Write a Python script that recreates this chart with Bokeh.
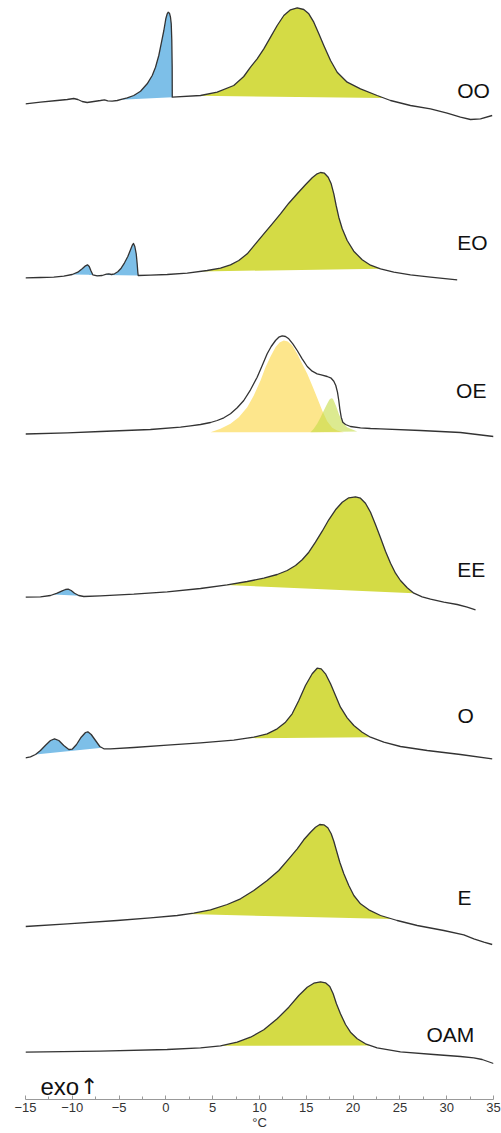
import numpy as np
from bokeh.plotting import figure
from bokeh.models import Range1d, FixedTicker, Label
from bokeh.embed import file_html
from bokeh.resources import INLINE

# ---------------- data ----------------
temp_ticks = [-15, -10, -5, 0, 5, 10, 15, 20, 25, 30, 35]
tick_labels = ["−15", "−10", "−5", "0", "5", "10", "15", "20", "25", "30", "35"]
minor_temp_ticks = [-12.5, -7.5, -2.5, 2.5, 7.5, 12.5, 17.5, 22.5, 27.5, 32.5]

# heat-flow traces (stacked, arbitrary units), temperature in °C
OO_T = [-15.00, -13.40, -11.62, -10.54, -9.84, -9.41, -8.94, -8.41, -7.70, -6.99,
        -6.56, -6.21, -5.74, -5.20, -4.67, -4.13, -3.43, -2.71, -2.00, -1.46,
        -1.11, -0.76, -0.47, -0.22, -0.01, 0.14, 0.25, 0.38, 0.49, 0.57,
        0.63, 0.67, 0.68, 3.70, 5.48, 7.25, 8.32, 9.04, 9.75, 10.46,
        11.18, 11.89, 12.60, 13.31, 14.03, 14.73, 15.27, 15.80, 16.34, 16.87,
        17.59, 18.30, 19.37, 20.79, 22.57, 24.00, 26.13, 28.27, 30.05, 31.47,
        32.54, 33.61, 34.86]
OO_H = [995.7, 997.3, 999.0, 1000.0, 1001.0, 1000.0, 998.0, 997.0, 998.0, 999.0,
        999.7, 998.7, 998.3, 999.0, 1000.3, 1001.7, 1004.0, 1008.3, 1015.7, 1024.0,
        1032.3, 1044.0, 1057.3, 1069.0, 1080.7, 1085.7, 1087.3, 1086.3, 1082.3, 1075.7,
        1059.0, 1032.3, 1002.3, 1004.0, 1007.3, 1014.0, 1023.0, 1032.3, 1040.7, 1050.7,
        1062.3, 1074.0, 1084.0, 1089.7, 1091.7, 1090.0, 1085.7, 1077.3, 1065.7, 1054.0,
        1039.0, 1027.3, 1017.3, 1010.7, 1004.0, 999.0, 994.0, 990.7, 986.3, 982.3,
        980.0, 980.7, 984.0]

EO_T = [-15.00, -13.40, -11.98, -10.91, -10.01, -9.41, -8.94, -8.59, -8.38, -8.19,
        -8.02, -7.81, -7.34, -6.81, -6.35, -6.10, -5.81, -5.49, -5.14, -4.78,
        -4.42, -4.07, -3.78, -3.57, -3.46, -3.32, -3.17, -3.07, -3.00, -2.96,
        -1.65, 0.14, 2.28, 4.41, 5.83, 6.90, 7.79, 8.69, 9.57, 10.46,
        11.36, 12.24, 13.13, 14.03, 14.91, 15.63, 16.16, 16.52, 16.94, 17.34,
        17.66, 17.94, 18.19, 18.47, 18.84, 19.37, 20.07, 20.97, 21.86, 22.93,
        24.35, 26.13, 28.27, 31.12]
EO_H = [821.7, 822.0, 822.3, 823.3, 825.0, 827.3, 830.7, 833.7, 834.7, 833.0,
        829.0, 824.7, 823.7, 824.0, 825.3, 825.7, 825.0, 825.7, 827.7, 831.3,
        836.7, 843.0, 849.7, 854.7, 856.0, 853.0, 845.7, 835.7, 827.3, 824.0,
        824.3, 825.0, 826.3, 829.0, 831.3, 834.7, 839.0, 845.7, 855.7, 865.7,
        875.7, 885.7, 896.3, 905.7, 914.7, 921.7, 925.7, 927.0, 926.3, 922.3,
        915.7, 905.7, 894.0, 882.3, 870.7, 859.0, 848.3, 839.7, 834.3, 830.7,
        827.3, 824.7, 822.3, 819.7]

OE_T = [-15.00, -10.54, -6.99, -1.65, 1.56, 2.63, 3.70, 4.77, 5.48, 6.19,
        6.90, 7.62, 8.32, 9.04, 9.75, 10.29, 10.82, 11.25, 11.71, 12.06,
        12.43, 12.78, 13.13, 13.56, 14.03, 14.56, 15.10, 15.63, 16.16, 16.70,
        17.23, 17.66, 17.94, 18.15, 18.33, 18.47, 18.58, 18.73, 18.90, 19.19,
        19.72, 20.79, 21.86, 22.93, 27.20, 31.47, 35.00]
OE_H = [665.5, 666.7, 668.0, 670.0, 672.3, 673.7, 675.0, 677.0, 679.0, 681.7,
        685.7, 691.7, 699.0, 709.7, 722.3, 734.0, 745.7, 753.0, 759.0, 762.3,
        763.7, 763.0, 760.7, 755.7, 749.0, 740.7, 733.0, 728.3, 725.7, 724.3,
        723.0, 721.3, 718.3, 714.0, 707.3, 699.0, 690.7, 682.3, 677.3, 675.0,
        673.0, 671.7, 671.0, 670.7, 669.0, 667.0, 663.0]

# OE deconvoluted components
OE_main_T = [4.77, 5.83, 6.90, 7.79, 8.69, 9.39, 10.11, 10.64, 11.18, 11.71, 12.14, 12.60,
             13.03, 13.50, 14.03, 14.56, 15.10, 15.63, 16.16, 16.70, 17.23, 17.77, 18.30, 19.01]
OE_main_H = [667.3, 670.7, 675.7, 682.3, 692.3, 704.0, 719.0, 732.3, 743.0, 752.3, 757.0, 759.0,
             758.0, 754.0, 745.7, 735.7, 725.7, 714.0, 701.7, 689.0, 678.3, 671.7, 669.0, 667.3]
OE_minor_T = [15.45, 15.80, 16.16, 16.52, 16.87, 17.23, 17.48, 17.66, 17.84, 18.01, 18.23,
              18.47, 18.73, 19.01, 19.37, 19.72, 20.44]
OE_minor_H = [667.3, 670.7, 675.7, 682.0, 689.0, 695.7, 700.0, 701.3, 700.7, 697.3, 692.3,
              685.7, 680.0, 675.7, 672.3, 670.7, 668.0]

EE_T = [-15.00, -13.40, -12.33, -11.61, -11.08, -10.73, -10.44, -10.12, -9.76, -9.31,
        -8.77, -6.99, -3.43, 0.14, 3.70, 6.55, 8.69, 10.46, 11.89, 12.96,
        13.85, 14.56, 15.27, 15.98, 16.70, 17.40, 18.12, 18.84, 19.54, 20.26,
        20.79, 21.32, 21.86, 22.39, 22.93, 23.46, 24.00, 24.53, 25.06, 25.78,
        26.49, 27.38, 28.27, 29.69, 31.12, 32.19, 33.08]
EE_H = [502.3, 502.7, 504.0, 506.3, 508.7, 510.0, 510.3, 509.0, 506.3, 504.0,
        503.0, 503.7, 505.3, 507.7, 511.0, 514.7, 518.0, 521.3, 525.0, 529.0,
        534.0, 539.7, 547.3, 557.3, 568.3, 579.7, 589.7, 597.3, 601.7, 602.7,
        601.3, 596.3, 587.3, 575.0, 561.7, 548.3, 536.3, 526.3, 519.0, 511.7,
        506.3, 502.7, 500.3, 497.3, 495.0, 492.3, 489.7]

O_T = [-15.00, -14.47, -13.93, -13.40, -12.86, -12.33, -11.90, -11.44, -10.91, -10.37,
       -10.01, -9.55, -9.05, -8.59, -8.34, -7.98, -7.52, -7.06, -6.63, -5.92,
       -3.43, 0.14, 3.70, 7.25, 9.39, 10.82, 11.89, 12.78, 13.49, 14.20,
       14.91, 15.63, 16.16, 16.59, 17.05, 17.59, 18.12, 18.65, 19.37, 20.08,
       20.97, 21.86, 23.28, 25.06, 27.92, 31.47, 34.86]
O_H = [341.7, 342.7, 345.0, 349.0, 354.3, 359.0, 360.7, 359.0, 354.0, 350.0,
       350.3, 355.0, 362.3, 367.0, 367.7, 365.0, 359.0, 353.0, 350.7, 350.7,
       352.0, 354.3, 356.7, 359.3, 362.3, 365.7, 370.7, 377.3, 385.7, 399.0,
       414.0, 425.7, 431.3, 430.7, 425.7, 415.7, 404.0, 392.3, 381.7, 374.0,
       367.3, 362.3, 357.3, 353.0, 349.0, 345.0, 340.7]

E_T = [-15.00, -10.54, -5.20, -1.65, 1.21, 2.98, 4.77, 6.55, 7.97, 9.39,
       10.82, 12.06, 13.13, 14.03, 14.73, 15.45, 15.98, 16.44, 16.87, 17.30,
       17.66, 17.94, 18.22, 18.58, 19.01, 19.54, 20.08, 20.79, 21.68, 22.93,
       24.71, 26.85, 29.69, 31.83, 32.90, 33.97, 34.86]
E_H = [173.0, 175.7, 179.0, 181.7, 184.0, 186.3, 189.7, 195.0, 200.7, 209.0,
       219.0, 229.0, 240.7, 250.7, 259.7, 267.3, 272.3, 275.0, 274.7, 271.7,
       265.7, 258.3, 249.0, 237.3, 225.7, 214.0, 204.0, 195.7, 189.7, 184.0,
       179.0, 174.0, 169.0, 164.7, 160.7, 157.3, 155.0]

OAM_T = [-15.00, -6.99, 0.14, 3.70, 5.83, 7.62, 9.04, 10.46, 11.89, 13.13,
         14.20, 15.10, 15.80, 16.52, 17.05, 17.51, 17.87, 18.22, 18.65, 19.19,
         19.72, 20.44, 21.32, 22.57, 25.06, 28.62, 31.47, 32.90, 33.79, 35.00]
OAM_H = [47.3, 48.3, 50.0, 51.7, 53.7, 57.3, 62.3, 69.7, 80.7, 92.3,
         104.0, 112.3, 116.3, 117.7, 116.7, 113.0, 105.7, 95.7, 85.7, 75.0,
         67.3, 60.7, 55.7, 51.7, 47.7, 45.0, 43.0, 41.7, 40.0, 36.0]

# integrated peak ranges (°C): crystallisation (blue) and melting (green)
OO_blue, OO_green = (-4.85, 0.68), (3.34, 23.28)
EO_blue, EO_green = (-10.01, -2.96), (3.70, 22.93)
EE_blue, EE_green = (-12.00, -9.20), (6.37, 26.49)
O_blue, O_green = (-13.93, -6.81), (8.69, 21.86)
E_green = (2.28, 24.18)
OAM_green = (5.83, 21.86)

sample_names = ["OO", "EO", "OE", "EE", "O", "E", "OAM"]

# ---------------- styling ----------------
BLUE = "#7dbfe8"
GREEN = "#d4db45"
YELLOW = "#fde68c"
LIGHT_GREEN = "#c4dc46"
LINE = "#333333"
FONT = "Liberation Sans"

p = figure(width=501, height=1133, output_backend="svg", toolbar_location=None,
           x_range=Range1d(-15, 35), y_range=Range1d(0, 1099),
           y_axis_location=None, min_border_left=25, min_border_right=8,
           min_border_top=0, min_border_bottom=34)
p.grid.visible = False
p.outline_line_color = None
p.background_fill_color = "white"


def fill_peak(T, H, rng, color):
    t1, t2 = rng
    Ta = np.array(T)
    Ha = np.array(H)
    h1 = float(np.interp(t1, Ta, Ha))
    h2 = float(np.interp(t2, Ta, Ha))
    mask = (Ta > t1) & (Ta < t2)
    xs = [t1] + list(Ta[mask]) + [t2]
    ys = [h1] + list(Ha[mask]) + [h2]
    p.patch(xs, ys, fill_color=color, line_color=None)


fill_peak(OO_T, OO_H, OO_blue, BLUE)
fill_peak(OO_T, OO_H, OO_green, GREEN)
fill_peak(EO_T, EO_H, EO_blue, BLUE)
fill_peak(EO_T, EO_H, EO_green, GREEN)
fill_peak(EE_T, EE_H, EE_blue, BLUE)
fill_peak(EE_T, EE_H, EE_green, GREEN)
fill_peak(O_T, O_H, O_blue, BLUE)
fill_peak(O_T, O_H, O_green, GREEN)
fill_peak(E_T, E_H, E_green, GREEN)
fill_peak(OAM_T, OAM_H, OAM_green, GREEN)

p.patch(OE_main_T, OE_main_H, fill_color=YELLOW, line_color=None)
p.patch(OE_minor_T, OE_minor_H, fill_color=LIGHT_GREEN, fill_alpha=0.6, line_color=None)

for T, H in [(OO_T, OO_H), (EO_T, EO_H), (OE_T, OE_H), (EE_T, EE_H),
             (O_T, O_H), (E_T, E_H), (OAM_T, OAM_H)]:
    p.line(T, H, line_color=LINE, line_width=1.3, line_join="round")

# sample labels
label_pos = [(31.12, 1009), (31.12, 857.3), (31.0, 709), (31.12, 529.7),
             (31.15, 384), (31.15, 201.7), (27.84, 65)]
for name, (lx, ly) in zip(sample_names, label_pos):
    p.add_layout(Label(x=lx, y=ly, text=name, text_font=FONT, text_font_size="21px",
                       text_color="#111111", text_baseline="alphabetic", text_align="left"))

# "exo↑" direction marker (arrow set in DejaVu Sans, which has the glyph)
p.add_layout(Label(x=-13.4, y=13, text="exo", text_font=FONT, text_font_size="24px",
                   text_color="#111111", text_baseline="alphabetic", text_align="left"))
p.add_layout(Label(x=-8.2, y=13, text="↑", text_font="DejaVu Sans", text_font_size="22px",
                   text_color="#111111", text_baseline="alphabetic", text_align="center"))

# x axis
ax = p.xaxis[0]
ax.ticker = FixedTicker(ticks=temp_ticks, minor_ticks=minor_temp_ticks)
ax.major_label_overrides = {t: s for t, s in zip(temp_ticks, tick_labels)}
ax.axis_label = "°C"
ax.axis_label_text_font = FONT
ax.axis_label_text_font_style = "normal"
ax.axis_label_text_font_size = "13px"
ax.axis_label_text_color = "#333333"
ax.axis_label_standoff = 0
ax.major_label_text_font = FONT
ax.major_label_text_font_size = "13px"
ax.major_label_text_color = "#333333"
ax.major_label_standoff = 3
ax.axis_line_color = "#999999"
ax.major_tick_line_color = "#999999"
ax.minor_tick_line_color = "#999999"
ax.major_tick_in = 4
ax.major_tick_out = 0
ax.minor_tick_in = 3
ax.minor_tick_out = 0

open("out.html", "w").write(file_html(p, INLINE))
